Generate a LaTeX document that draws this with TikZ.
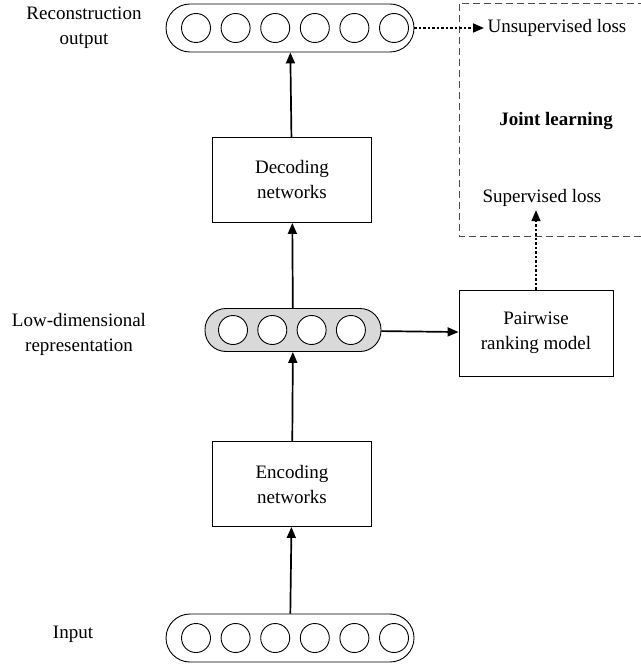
\documentclass[tikz,border=0pt]{standalone}
\usepackage{fontspec}
\setmainfont{Liberation Serif}
\usetikzlibrary{arrows.meta,positioning}

\begin{document}
\begin{tikzpicture}[x=1pt, y=-1pt, font=\fontsize{19}{25}\selectfont,
                    box/.style={draw, line width=0.9pt, minimum width=159pt, minimum height=85pt, align=center},
                    pill/.style={draw, line width=0.9pt, rounded corners=24pt, minimum width=248pt, minimum height=48pt},
                    unit/.style={circle, draw, fill=white, line width=0.9pt, minimum size=29pt, inner sep=0pt},
                    flow/.style={-{Triangle[length=11pt,width=9pt]}, line width=1.7pt},
                    lossflow/.style={flow, dash pattern=on 2.5pt off 2pt},
                    side label/.style={align=center}]

  \useasboundingbox (0,0) rectangle (640,668);

  % autoencoder column
  \node[pill] (out) at (290,28) {};
  \foreach \i in {1,...,6}
    \node[unit] (out\i) at ({196+39.6*(\i-1)},28) {};
  \node[box] (dec) at (292,180) {Decoding\\networks};
  \node[pill, fill=gray!30, minimum width=176pt, minimum height=43pt, rounded corners=21pt] (low) at (293,330) {};
  \foreach \i in {1,...,4}
    \node[unit] (low\i) at ({233+39.3*(\i-1)},330) {};
  \node[box] (enc) at (292,484) {Encoding\\networks};
  \node[pill] (in) at (290,638) {};
  \foreach \i in {1,...,6}
    \node[unit] (in\i) at ({196+39.6*(\i-1)},638) {};

  % labels on the left
  \node[side label] (outlab) at (84,28) {Reconstruction\\output};
  \node[side label] (lowlab) at (79,334) {Low-dimensional\\representation};
  \node[side label] (inlab) at (73,634) {Input};

  % ranking part
  \node[box, minimum width=154pt, minimum height=86pt] (rank) at (536,333) {Pairwise\\ranking model};
  \node[anchor=west] (unsup) at (484,28) {Unsupervised loss};
  \node (sup) at (542,198) {Supervised loss};
  \node[font=\fontsize{19}{25}\selectfont\bfseries] (joint) at (556,121) {Joint learning};
  \draw[gray!60!black, line width=0.9pt, dash pattern=on 7pt off 4pt] (645,3) -| (459,236) -- (645,236);

  % connectors
  \draw[flow] (in) -- (enc);
  \draw[flow] (enc) -- (low);
  \draw[flow] (low) -- (dec);
  \draw[flow] (dec) -- (out);
  \draw[flow] (low) -- (rank);
  \draw[lossflow] (out) -- (unsup);
  \draw[lossflow] (rank.north) -- (rank.north |- sup.south);

\end{tikzpicture}
\end{document}
